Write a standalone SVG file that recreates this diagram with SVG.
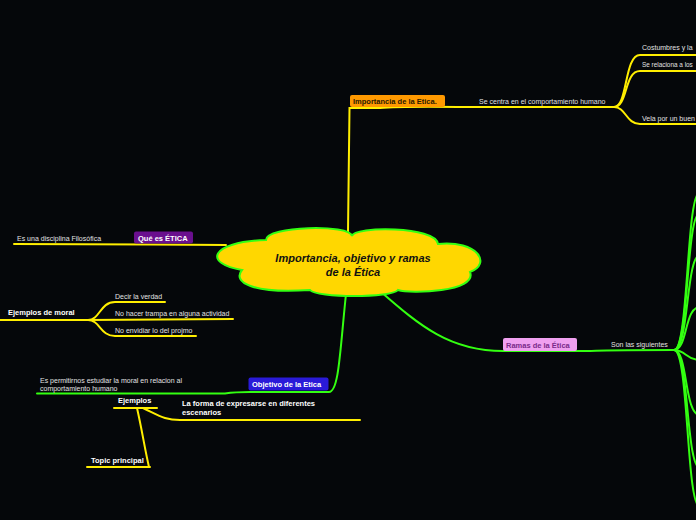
<svg xmlns="http://www.w3.org/2000/svg" width="696" height="520" viewBox="0 0 696 520">
<style>
.lbl{font-family:"Liberation Sans",Arial,sans-serif;font-size:7px;fill:#e2e2e2}
.bold{font-family:"Liberation Sans",Arial,sans-serif;font-size:7.5px;font-weight:bold;fill:#ffffff}
.y{fill:none;stroke:#ffee00;stroke-width:2;stroke-linecap:round}
.g{fill:none;stroke:#33ff11;stroke-width:2;stroke-linecap:round}
</style>
<rect width="696" height="520" fill="#05070a"/>
<g id="connectors">
  <!-- Importancia -->
  <path class="y" d="M348,232 L349.5,108 L380,108 Q400,106 470,107 L614,107"/>
  <path class="y" d="M614,107 C628,107 624,55 640,55 L700,55"/>
  <path class="y" d="M614,107 C628,107 624,71 640,71 L700,71"/>
  <path class="y" d="M614,107 C626,107 626,124 640,124 L700,124"/>
  <!-- Que es ETICA -->
  <path class="y" d="M226,245 L150,244.5 L14,244"/>
  <!-- Ejemplos de moral -->
  <path class="y" d="M0,320 L88,320"/>
  <path class="y" d="M88,320 C100,320 100,302 115,302 L165,302"/>
  <path class="y" d="M88,320 L233,319"/>
  <path class="y" d="M88,320 C100,320 100,336 115,336 L196,336"/>
  <!-- Objetivo -->
  <path class="g" d="M346,294 C340,350 339,392 329,392 L250,392 Q235,392 225,393.5 L37,393.5"/>
  <!-- Ejemplos -->
  <path class="y" d="M114,408 L157,408"/>
  <path class="y" d="M143,408 C160,416 165,420 180,420 L360,420"/>
  <path class="y" d="M137,408 C142,430 145,450 149,467"/>
  <path class="y" d="M87,467 L150,467"/>
  <!-- Ramas -->
  <path class="g" d="M380,291 C420,326 450,351 503,351 L590,351 Q600,350 674,350"/>
  <path class="g" d="M674,350 C689,350 686,192 700,192"/>
  <path class="g" d="M674,350 C689,350 686,213 700,213"/>
  <path class="g" d="M674,350 C689,350 686,255 700,255"/>
  <path class="g" d="M674,350 C688,350 684,307 700,307"/>
  <path class="g" d="M674,350 C686,350 686,360 700,360"/>
  <path class="g" d="M674,350 C688,350 684,415 700,415"/>
  <path class="g" d="M674,350 C689,350 686,468 700,468"/>
  <path class="g" d="M674,350 C689,350 686,507 700,507"/>
</g>
<g id="central">
  <path d="M266,240 C266,226 350,224 352,236 C354,226 436,226 438,244 C478,240 492,264 470,272 C478,292 410,294 398,290 C392,298 316,298 310,290 C252,294 232,282 242,270 C204,264 208,242 266,240 Z" fill="#ffd700" stroke="#33ff11" stroke-width="2"/>
  <text x="353" y="262" text-anchor="middle" font-family="Liberation Sans,Arial,sans-serif" font-size="11" font-weight="bold" font-style="italic" fill="#111">Importancia, objetivo y ramas</text>
  <text x="353" y="276" text-anchor="middle" font-family="Liberation Sans,Arial,sans-serif" font-size="11" font-weight="bold" font-style="italic" fill="#111">de la Ética</text>
</g>
<g id="importancia">
  <rect x="350" y="95" width="95" height="12" rx="2" fill="#ff9900"/>
  <text x="353" y="104" font-family="Liberation Sans,Arial,sans-serif" font-size="7.5" font-weight="bold" fill="#2a1a00">Importancia de la Etica.</text>
</g>
<g id="se-centra"><text class="lbl" x="479" y="104">Se centra en el comportamiento humano</text></g>
<g id="costumbres"><text class="lbl" x="642" y="50">Costumbres y la</text></g>
<g id="se-relaciona"><text class="lbl" x="642" y="67" style="font-size:6.4px">Se relaciona a los</text></g>
<g id="vela"><text class="lbl" x="642" y="121">Vela por un buen</text></g>
<g id="que-es-etica">
  <rect x="134" y="231.5" width="59" height="12" rx="2" fill="#6a0f8e"/>
  <text x="138" y="240.5" font-family="Liberation Sans,Arial,sans-serif" font-size="7.5" font-weight="bold" fill="#ffffff">Qué es ÉTICA</text>
</g>
<g id="disciplina"><text class="lbl" x="17" y="241">Es una disciplina Filosófica</text></g>
<g id="ejemplos-moral"><text class="bold" x="8" y="315">Ejemplos de moral</text></g>
<g id="decir"><text class="lbl" x="115" y="299">Decir la verdad</text></g>
<g id="no-hacer"><text class="lbl" x="115" y="316">No hacer trampa en alguna actividad</text></g>
<g id="no-envidiar"><text class="lbl" x="115" y="333">No envidiar lo del projmo</text></g>
<g id="objetivo">
  <rect x="248.5" y="377.5" width="80" height="13" rx="2" fill="#2a1ad8"/>
  <text x="252" y="387" font-family="Liberation Sans,Arial,sans-serif" font-size="7.5" font-weight="bold" fill="#ffffff">Objetivo de la Etica</text>
</g>
<g id="permitirnos">
  <text class="lbl" x="40" y="383">Es permitirnos estudiar la moral en relacion al</text>
  <text class="lbl" x="40" y="391">comportamiento humano</text>
</g>
<g id="ejemplos"><text class="bold" x="118" y="403">Ejemplos</text></g>
<g id="la-forma">
  <text class="bold" x="182" y="406">La forma de expresarse en diferentes</text>
  <text class="bold" x="182" y="415">escenarios</text>
</g>
<g id="topic"><text class="bold" x="91" y="463">Topic principal</text></g>
<g id="ramas">
  <rect x="503" y="338" width="74" height="13" rx="2" fill="#f0a0f0"/>
  <text x="506" y="347.5" font-family="Liberation Sans,Arial,sans-serif" font-size="7.5" font-weight="bold" fill="#7a2a8a">Ramas de la Ética</text>
</g>
<g id="son-las"><text class="lbl" x="611" y="347">Son las siguientes</text></g>
</svg>
